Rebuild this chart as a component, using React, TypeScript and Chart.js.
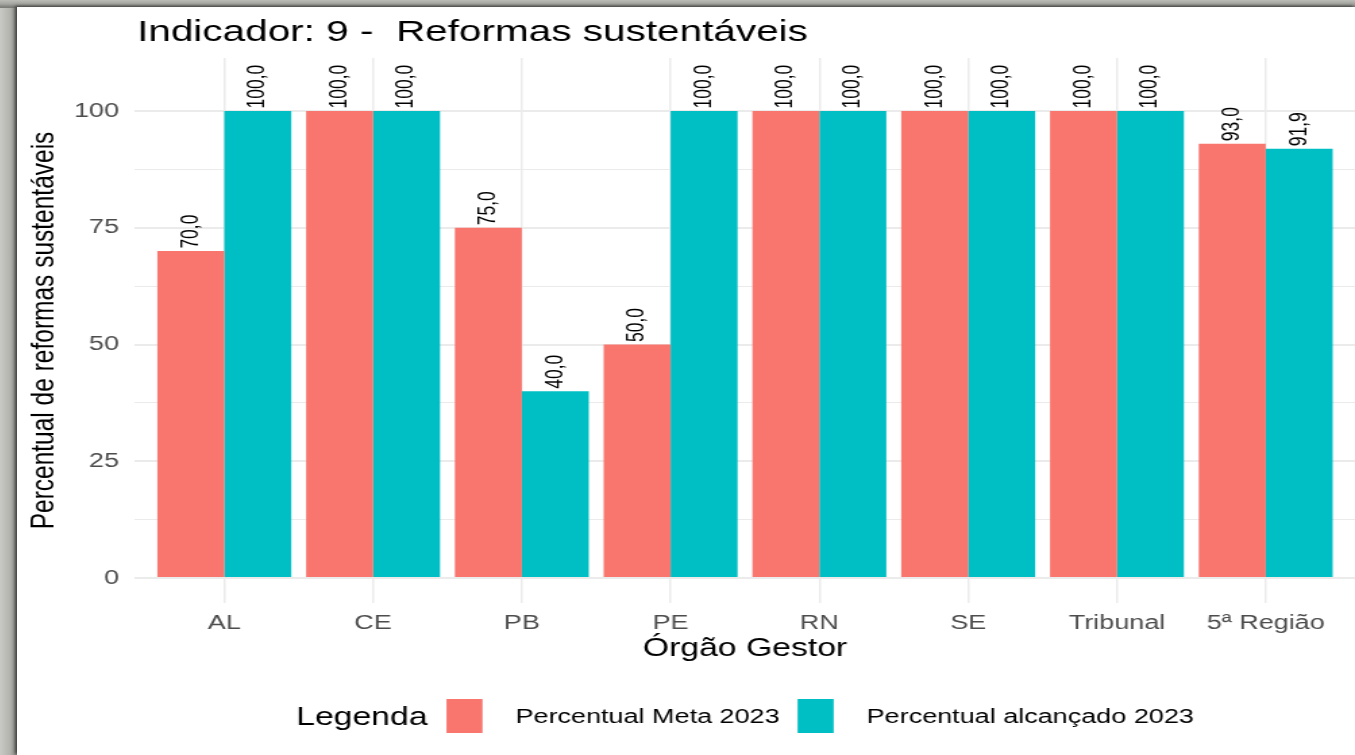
import React, { useEffect, useRef } from "react";
import { Chart, registerables } from "chart.js";

Chart.register(...registerables);

const categories = ["AL", "CE", "PB", "PE", "RN", "SE", "Tribunal", "5ª Região"];
const metaValues = [70, 100, 75, 50, 100, 100, 100, 93.0];
const alcancadoValues = [100, 100, 40, 100, 100, 100, 100, 91.9];
const seriesNames = ["Percentual Meta 2023", "Percentual alcançado 2023"];
const seriesColors = ["#F8766D", "#00BFC4"];
const yTickValues = [0, 12.5, 25, 37.5, 50, 62.5, 75, 87.5, 100];
const yLabelValues = [0, 25, 50, 75, 100];

const titleText = "Indicador: 9 -  Reformas sustentáveis";
const xTitle = "Órgão Gestor";
const yTitle = "Percentual de reformas sustentáveis";
const legendTitle = "Legenda";

const FONT = "'Liberation Sans', Arial, Helvetica, sans-serif";
const PANEL_W = 1338;
const PANEL_H = 748;
const INNER_W = 991;
const SX = PANEL_W / INNER_W;

const fmt = (v: number) => v.toFixed(1).replace(".", ",");

const decorPlugin = {
  id: "decor",
  afterDatasetsDraw(chart: any) {
    const ctx = chart.ctx;
    chart.data.datasets.forEach((ds: any, di: number) => {
      const meta = chart.getDatasetMeta(di);
      meta.data.forEach((el: any, i: number) => {
        const v = ds.data[i].y;
        ctx.save();
        ctx.translate(el.x, el.y - 2.5);
        ctx.rotate(-Math.PI / 2);
        ctx.font = `17.5px ${FONT}`;
        ctx.fillStyle = "#000000";
        ctx.textAlign = "left";
        ctx.textBaseline = "middle";
        ctx.fillText(fmt(v), 0, 0);
        ctx.restore();
      });
    });
  },
  afterDraw(chart: any) {
    const ctx = chart.ctx;
    const area = chart.chartArea;
    const cx = (area.left + area.right) / 2;
    ctx.save();
    ctx.font = `30px ${FONT}`;
    ctx.fillStyle = "#000000";
    ctx.textAlign = "left";
    ctx.textBaseline = "alphabetic";
    ctx.fillText(titleText, area.left + 1.5, 34);
    ctx.font = `25px ${FONT}`;
    ctx.textAlign = "center";
    ctx.fillText(xTitle, cx, 649);
    ctx.save();
    ctx.translate(20.7, (area.top + area.bottom) / 2);
    ctx.rotate(-Math.PI / 2);
    ctx.font = `24.5px ${FONT}`;
    ctx.textAlign = "center";
    ctx.textBaseline = "middle";
    ctx.fillText(yTitle, 0, 0);
    ctx.restore();
    const keyW = 26.7;
    const keyH = 34;
    const gapTitle = 14;
    const gapKeyText = 24.4;
    const gapItems = 13.3;
    ctx.font = `25px ${FONT}`;
    const tW = ctx.measureText(legendTitle).width;
    ctx.font = `20px ${FONT}`;
    const lW = seriesNames.map((s) => ctx.measureText(s).width);
    const total =
      tW + gapTitle + keyW + gapKeyText + lW[0] + gapItems + keyW + gapKeyText + lW[1];
    let x = cx - total / 2;
    const cy = 709;
    ctx.textAlign = "left";
    ctx.textBaseline = "alphabetic";
    ctx.font = `25px ${FONT}`;
    ctx.fillStyle = "#000000";
    ctx.fillText(legendTitle, x, cy + 9);
    x += tW + gapTitle;
    for (let i = 0; i < 2; i++) {
      ctx.fillStyle = seriesColors[i];
      ctx.fillRect(x, cy - keyH / 2, keyW, keyH);
      x += keyW + gapKeyText;
      ctx.fillStyle = "#000000";
      ctx.font = `20px ${FONT}`;
      ctx.fillText(seriesNames[i], x, cy + 7);
      x += lW[i] + gapItems;
    }
    ctx.restore();
  },
};

export default function App() {
  const ref = useRef<HTMLCanvasElement | null>(null);
  useEffect(() => {
    if (!ref.current) return;
    Chart.defaults.font.family = FONT;
    const chart = new Chart(ref.current, {
      type: "bar",
      data: {
        datasets: [
          {
            label: seriesNames[0],
            data: metaValues.map((v, i) => ({ x: i, y: v })),
            backgroundColor: seriesColors[0],
            borderWidth: 0,
            categoryPercentage: 0.9,
            barPercentage: 1,
          },
          {
            label: seriesNames[1],
            data: alcancadoValues.map((v, i) => ({ x: i, y: v })),
            backgroundColor: seriesColors[1],
            borderWidth: 0,
            categoryPercentage: 0.9,
            barPercentage: 1,
          },
        ],
      } as any,
      options: {
        responsive: false,
        animation: false,
        devicePixelRatio: 1,
        layout: { padding: { top: 51, left: 0, right: 0, bottom: 112 } },
        plugins: {
          legend: { display: false },
          title: { display: false },
          tooltip: { enabled: false },
        },
        scales: {
          x: {
            type: "linear",
            min: -0.6,
            max: 7.6,
            offset: false,
            afterBuildTicks: (s: any) => {
              s.ticks = categories.map((_, i) => ({ value: i }));
            },
            afterFit: (s: any) => {
              s.height = 40;
            },
            ticks: {
              autoSkip: false,
              maxRotation: 0,
              minRotation: 0,
              padding: 8,
              color: "#4d4d4d",
              font: { size: 20 },
              callback: (v: any) => categories[v] ?? "",
            },
            grid: { color: "#ebebeb", lineWidth: 1.5, drawTicks: false, offset: false },
            border: { display: false },
          },
          y: {
            type: "linear",
            min: -5.35,
            max: 111.35,
            afterBuildTicks: (s: any) => {
              s.ticks = yTickValues.map((v) => ({ value: v }));
            },
            afterFit: (s: any) => {
              s.width = 87.4;
            },
            ticks: {
              autoSkip: false,
              padding: 11.8,
              color: "#4d4d4d",
              font: { size: 20 },
              callback: (v: any) => (yLabelValues.includes(v) ? String(v) : ""),
            },
            grid: {
              color: "#ebebeb",
              lineWidth: (c: any) =>
                c.tick && yLabelValues.includes(c.tick.value) ? 2 : 1,
              drawTicks: false,
            },
            border: { display: false },
          },
        },
      } as any,
      plugins: [decorPlugin],
    });
    return () => chart.destroy();
  }, []);

  return (
    <div
      style={{
        position: "fixed",
        left: 0,
        top: 0,
        width: 1355,
        height: 755,
        overflow: "hidden",
        background: "linear-gradient(90deg, #c9c9c5 0px, #b3b3ae 10px, #8e8e8a 16px)",
      }}
    >
      <div
        style={{
          position: "absolute",
          left: 0,
          top: 0,
          width: 1355,
          height: 8,
          background: "linear-gradient(180deg, #bdbdb8 0px, #a4a4a0 4px, #7d7d79 7px)",
        }}
      />
      <div
        style={{
          position: "absolute",
          left: 17,
          top: 7,
          width: PANEL_W,
          height: PANEL_H,
          background: "#ffffff",
          overflow: "hidden",
          boxShadow: "-2px -1px 3px rgba(30,30,30,0.7)",
        }}
      >
        <canvas
          ref={ref}
          width={INNER_W}
          height={PANEL_H}
          style={{
            display: "block",
            width: INNER_W,
            height: PANEL_H,
            transform: `scaleX(${SX})`,
            transformOrigin: "0 0",
          }}
        />
      </div>
    </div>
  );
}
